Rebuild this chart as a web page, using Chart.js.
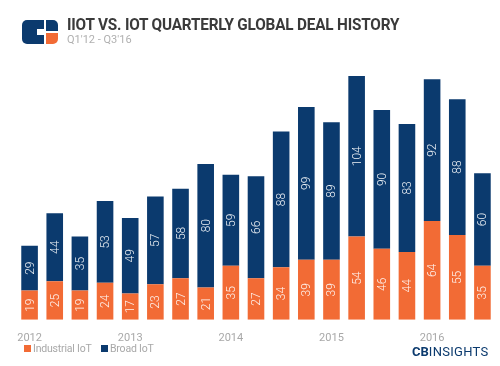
<!DOCTYPE html>
<html>
<head>
<meta charset="utf-8">
<script src="https://cdn.jsdelivr.net/npm/chart.js@4.4.1/dist/chart.umd.min.js"></script>
<style>
  html, body { margin: 0; padding: 0; background: #fff; }
  #wrap { position: relative; width: 500px; height: 366px; overflow: hidden; }
  #c { position: absolute; left: 0; top: 0; }
  #title { position: absolute; left: 67px; top: 14px; font-family: Roboto, "Noto Sans", sans-serif; font-weight: 700; font-size: 17px; color: #3a3a3a; letter-spacing: -0.2px; white-space: nowrap; transform: scaleX(0.9); transform-origin: left top; }
  #sub { position: absolute; left: 67px; top: 33px; font-family: Roboto, "Noto Sans", sans-serif; font-weight: 400; font-size: 11px; color: #b0b0b0; white-space: nowrap; }
  #logo { position: absolute; left: 22px; top: 20px; width: 36px; height: 24px; }
  #logo .a { position: absolute; left: 0; top: 0; width: 22px; height: 24px; background: #0b3a6e; border-radius: 5px 0 0 5px; }
  #logo .b { position: absolute; left: 24px; top: 0; width: 12px; height: 11px; background: #0b3a6e; border-radius: 0 5px 0 0; }
  #logo .d { position: absolute; left: 24px; top: 13px; width: 12px; height: 11px; background: #f26b35; border-radius: 0 0 5px 0; }
  #logo .n { position: absolute; left: 15px; top: 9px; width: 9px; height: 6px; background: #fff; }
  #brand { position: absolute; left: 412px; top: 344px; font-family: Roboto, sans-serif; font-weight: 700; font-size: 13px; color: #0b3a6e; }
  #brand span { font-weight: 400; letter-spacing: 0.3px; }
  #legend { position: absolute; left: 0; top: 342px; width: 200px; height: 14px; font-family: Roboto, sans-serif; font-size: 10.5px; color: #a8a8a8; white-space: nowrap; letter-spacing: -0.2px; }
  #legend .item { position: absolute; top: 0; }
  #legend .sw { display: inline-block; width: 7px; height: 7px; margin-right: 2px; vertical-align: 0px; }
</style>
</head>
<body>
<div id="wrap">
  <canvas id="c" width="500" height="366"></canvas>
  <div id="logo"><div class="a"></div><div class="n"></div><div class="b"></div><div class="d"></div></div>
  <div id="title">IIOT VS. IOT QUARTERLY GLOBAL DEAL HISTORY</div>
  <div id="sub">Q1'12 - Q3'16</div>
  <div id="legend"></div>
  <div id="brand">CB<span>INSIGHTS</span></div>
</div>
<script>
const quarters = ["Q1'12","Q2'12","Q3'12","Q4'12","Q1'13","Q2'13","Q3'13","Q4'13","Q1'14","Q2'14","Q3'14","Q4'14","Q1'15","Q2'15","Q3'15","Q4'15","Q1'16","Q2'16","Q3'16"];
const yearLabels = ["2012","","","","2013","","","","2014","","","","2015","","","","2016","",""];
const seriesNames = ["Industrial IoT", "Broad IoT"];
const industrialIoT = [19,25,19,24,17,23,27,21,35,27,34,39,39,54,46,44,64,55,35];
const broadIoT = [29,44,35,53,49,57,58,80,59,66,88,99,89,104,90,83,92,88,60];

const ORANGE = '#f26b35';
const NAVY = '#0b3a6e';

const barLabels = {
  id: 'barLabels',
  afterDatasetsDraw(chart) {
    const ctx = chart.ctx;
    ctx.save();
    ctx.fillStyle = 'rgba(255,255,255,0.92)';
    ctx.font = '300 12px Roboto, sans-serif';
    ctx.textAlign = 'center';
    ctx.textBaseline = 'middle';
    chart.data.datasets.forEach((ds, di) => {
      const meta = chart.getDatasetMeta(di);
      meta.data.forEach((el, i) => {
        const cy = (el.y + el.base) / 2;
        ctx.save();
        ctx.translate(el.x, cy);
        ctx.rotate(-Math.PI / 2);
        ctx.fillText(String(ds.data[i]), 0, 1);
        ctx.restore();
      });
    });
    ctx.restore();
  }
};

const chart = new Chart(document.getElementById('c'), {
  type: 'bar',
  data: {
    labels: quarters,
    datasets: [
      { label: seriesNames[0], data: industrialIoT, backgroundColor: ORANGE },
      { label: seriesNames[1], data: broadIoT, backgroundColor: NAVY }
    ]
  },
  options: {
    responsive: false,
    animation: false,
    layout: { padding: { top: 73, left: 17, right: 5, bottom: 17 } },
    datasets: { bar: { barPercentage: 0.66, categoryPercentage: 1.0 } },
    scales: {
      x: {
        stacked: true,
        grid: { display: false },
        border: { display: false },
        ticks: {
          autoSkip: false, maxRotation: 0, padding: 4,
          color: '#a8a8a8',
          font: { family: 'Roboto', size: 11 },
          callback: (v, i) => yearLabels[i]
        }
      },
      y: { stacked: true, display: false, min: 0, max: 160 }
    },
    plugins: {
      legend: { display: false },
      tooltip: { enabled: false }
    }
  },
  plugins: [barLabels]
});

const legendX = [24, 101];
document.getElementById('legend').innerHTML = chart.data.datasets.map((ds, i) =>
  '<span class="item" style="left:' + legendX[i] + 'px"><span class="sw" style="background:' + ds.backgroundColor + '"></span>' + ds.label + '</span>'
).join('');
</script>
</body>
</html>
